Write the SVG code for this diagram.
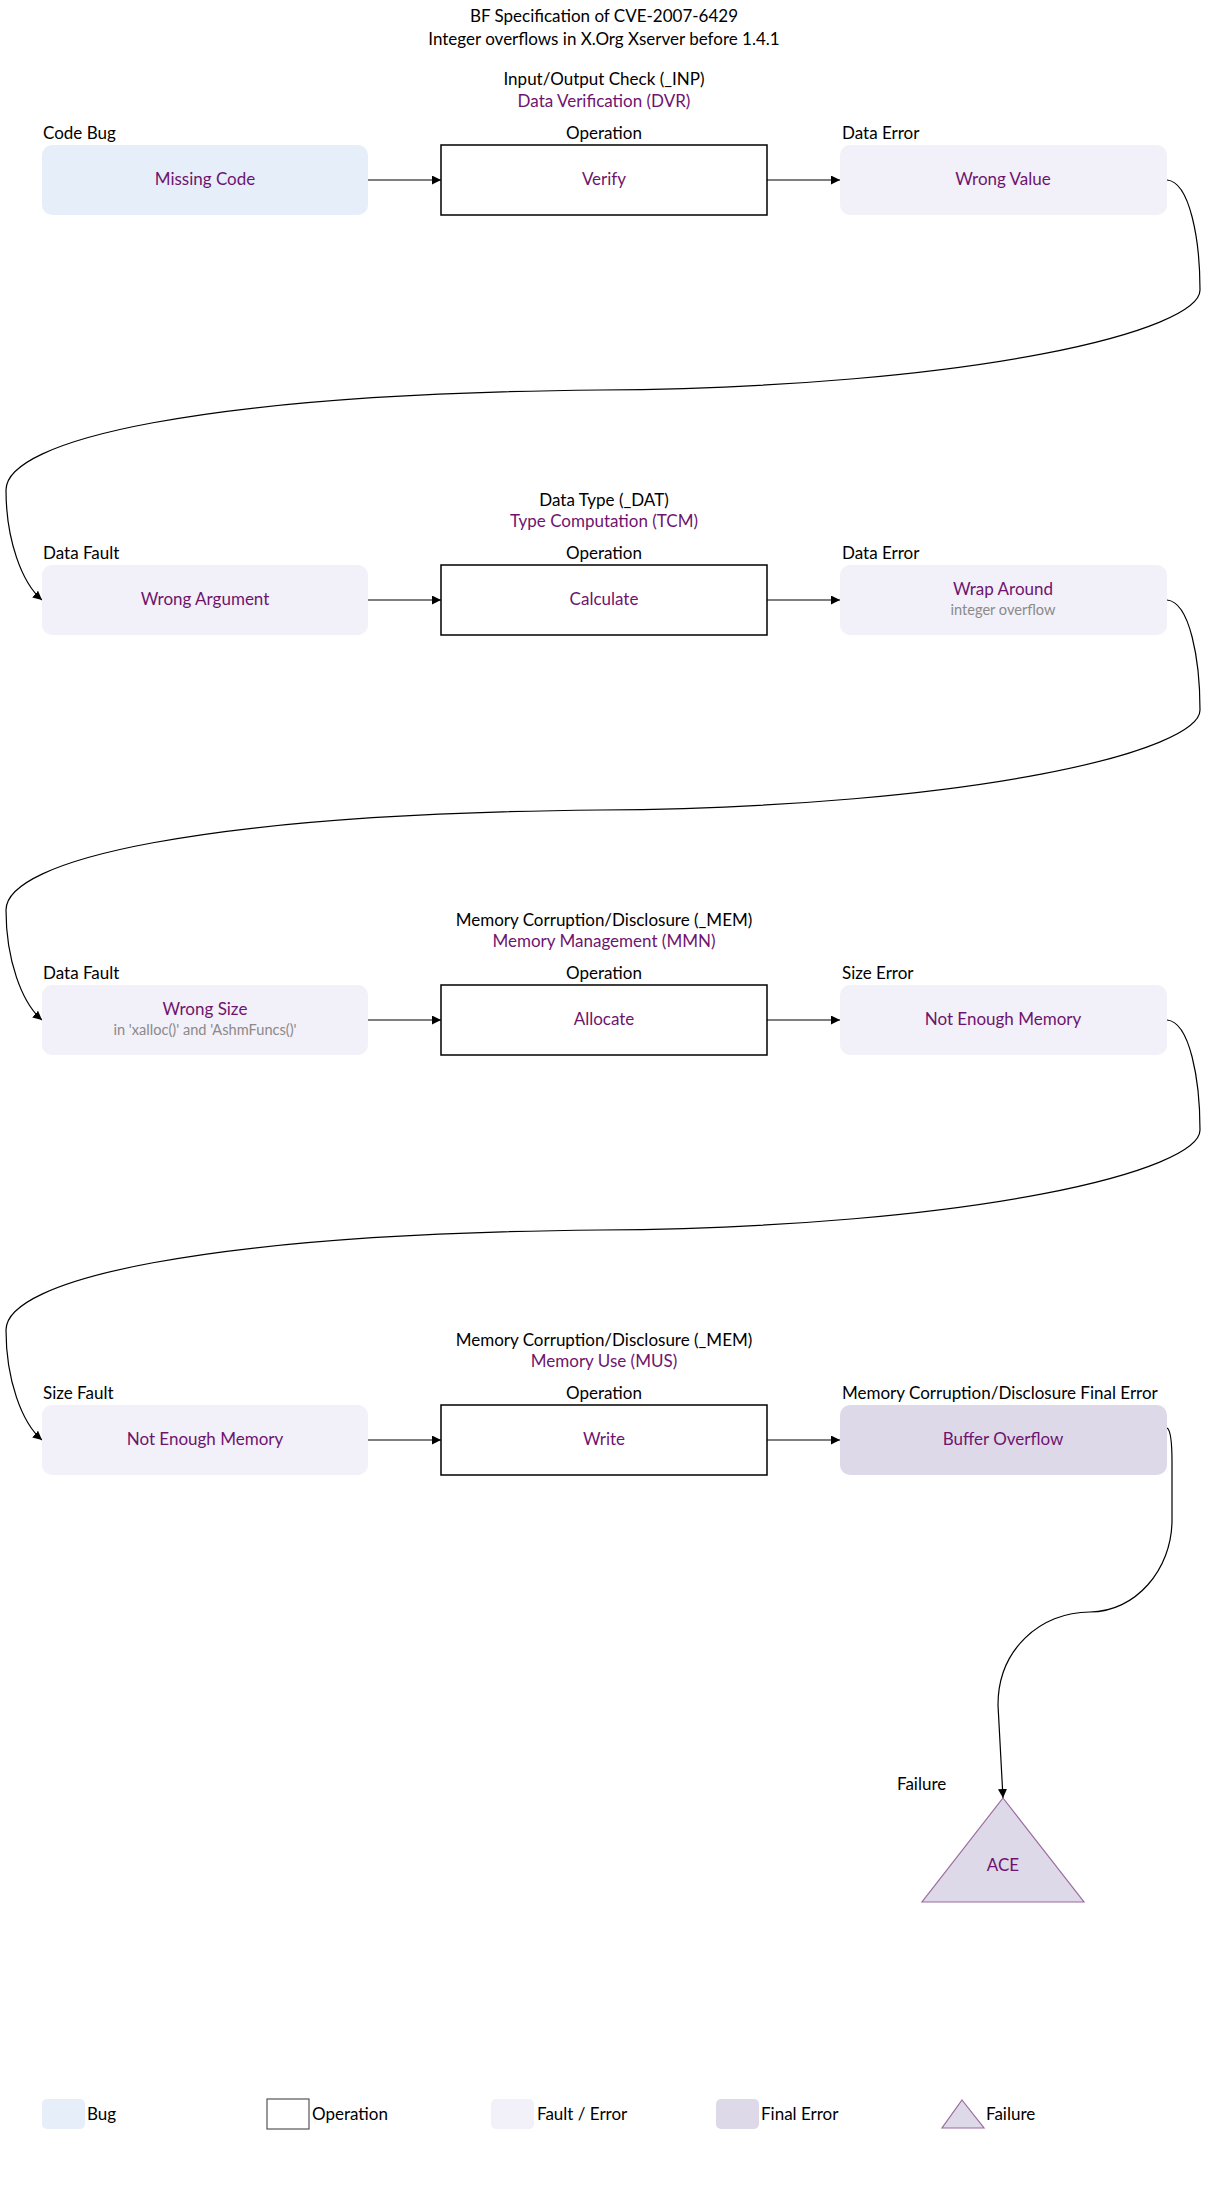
<svg xmlns="http://www.w3.org/2000/svg" width="1207" height="2208" viewBox="0 0 1207 2208">
<defs>
<style>
text{font-family:Lato,"Liberation Sans",sans-serif;font-size:17px;fill:#000;dominant-baseline:central}
.p{fill:#6e146e}
.s{font-size:14.6px;fill:#8a8a8a}
.c{text-anchor:middle}
.bug{fill:#e6eefa}
.fe{fill:#f2f0f8}
.fin{fill:#ded9e9}
.op{fill:#fff;stroke:#000;stroke-width:1.5}
.e{fill:none;stroke:#000;stroke-width:1.2;marker-end:url(#ah)}
.tri{fill:#ded9e9;stroke:#9b6b9e;stroke-width:1.2}
</style>
<marker id="ah" viewBox="0 0 10 10" refX="10" refY="5" markerWidth="9" markerHeight="9" orient="auto" markerUnits="userSpaceOnUse"><path d="M0,0 L10,5 L0,10 z" fill="#000"/></marker>
</defs>
<rect width="1207" height="2208" fill="#fff"/>

<g id="title">
<text class="c" x="604" y="15">BF Specification of CVE-2007-6429</text>
<text class="c" x="604" y="38">Integer overflows in X.Org Xserver before 1.4.1</text>
</g>

<g id="group1">
<text class="c" x="604" y="78">Input/Output Check (_INP)</text>
<text class="c p" x="604" y="100">Data Verification (DVR)</text>
</g>
<g id="group2">
<text class="c" x="604" y="499">Data Type (_DAT)</text>
<text class="c p" x="604" y="520">Type Computation (TCM)</text>
</g>
<g id="group3">
<text class="c" x="604" y="919">Memory Corruption/Disclosure (_MEM)</text>
<text class="c p" x="604" y="940">Memory Management (MMN)</text>
</g>
<g id="group4">
<text class="c" x="604" y="1339">Memory Corruption/Disclosure (_MEM)</text>
<text class="c p" x="604" y="1360">Memory Use (MUS)</text>
</g>

<g id="connectors">
<path class="e" d="M368,180 L441,180"/>
<path class="e" d="M767,180 L840,180"/>
<path class="e" d="M1167,180 C1190,182 1200,240 1200,290 C1200,330 980,387 600,390 C200,394 6,440 6,490 C6,540 22,583 42,600"/>
<path class="e" d="M368,600 L441,600"/>
<path class="e" d="M767,600 L840,600"/>
<path class="e" d="M1167,600 C1190,602 1200,660 1200,710 C1200,750 980,807 600,810 C200,814 6,860 6,910 C6,960 22,1003 42,1020"/>
<path class="e" d="M368,1020 L441,1020"/>
<path class="e" d="M767,1020 L840,1020"/>
<path class="e" d="M1167,1020 C1190,1022 1200,1080 1200,1130 C1200,1170 980,1227 600,1230 C200,1234 6,1280 6,1330 C6,1380 22,1423 42,1440"/>
<path class="e" d="M368,1440 L441,1440"/>
<path class="e" d="M767,1440 L840,1440"/>
<path class="e" d="M1167,1428 C1171,1430 1172,1442 1172,1462 L1172,1520 C1172,1570 1135,1612 1090,1612 C1040,1612 998,1650 998,1705 L1003,1798"/>
</g>

<g id="n-missing-code">
<text x="43" y="132">Code Bug</text>
<rect class="bug" x="42" y="145" width="326" height="70" rx="10"/>
<text class="c p" x="205" y="178">Missing Code</text>
</g>
<g id="n-verify">
<text class="c" x="604" y="132">Operation</text>
<rect class="op" x="441" y="145" width="326" height="70"/>
<text class="c p" x="604" y="178">Verify</text>
</g>
<g id="n-wrong-value">
<text x="842" y="132">Data Error</text>
<rect class="fe" x="840" y="145" width="327" height="70" rx="10"/>
<text class="c p" x="1003" y="178">Wrong Value</text>
</g>

<g id="n-wrong-argument">
<text x="43" y="552">Data Fault</text>
<rect class="fe" x="42" y="565" width="326" height="70" rx="10"/>
<text class="c p" x="205" y="598">Wrong Argument</text>
</g>
<g id="n-calculate">
<text class="c" x="604" y="552">Operation</text>
<rect class="op" x="441" y="565" width="326" height="70"/>
<text class="c p" x="604" y="598">Calculate</text>
</g>
<g id="n-wrap-around">
<text x="842" y="552">Data Error</text>
<rect class="fe" x="840" y="565" width="327" height="70" rx="10"/>
<text class="c p" x="1003" y="588">Wrap Around</text>
<text class="c s" x="1003" y="609">integer overflow</text>
</g>

<g id="n-wrong-size">
<text x="43" y="972">Data Fault</text>
<rect class="fe" x="42" y="985" width="326" height="70" rx="10"/>
<text class="c p" x="205" y="1008">Wrong Size</text>
<text class="c s" x="205" y="1029">in 'xalloc()' and 'AshmFuncs()'</text>
</g>
<g id="n-allocate">
<text class="c" x="604" y="972">Operation</text>
<rect class="op" x="441" y="985" width="326" height="70"/>
<text class="c p" x="604" y="1018">Allocate</text>
</g>
<g id="n-not-enough-memory-error">
<text x="842" y="972">Size Error</text>
<rect class="fe" x="840" y="985" width="327" height="70" rx="10"/>
<text class="c p" x="1003" y="1018">Not Enough Memory</text>
</g>

<g id="n-not-enough-memory-fault">
<text x="43" y="1392">Size Fault</text>
<rect class="fe" x="42" y="1405" width="326" height="70" rx="10"/>
<text class="c p" x="205" y="1438">Not Enough Memory</text>
</g>
<g id="n-write">
<text class="c" x="604" y="1392">Operation</text>
<rect class="op" x="441" y="1405" width="326" height="70"/>
<text class="c p" x="604" y="1438">Write</text>
</g>
<g id="n-buffer-overflow">
<text x="842" y="1392">Memory Corruption/Disclosure Final Error</text>
<rect class="fin" x="840" y="1405" width="327" height="70" rx="10"/>
<text class="c p" x="1003" y="1438">Buffer Overflow</text>
</g>

<g id="n-ace">
<text x="897" y="1783">Failure</text>
<polygon class="tri" points="1003,1798 1084,1902 922,1902"/>
<text class="c p" x="1003" y="1864">ACE</text>
</g>

<g id="legend">
<rect class="bug" x="42" y="2099" width="43" height="30" rx="5"/>
<text x="87" y="2113">Bug</text>
<rect x="267" y="2099" width="42" height="30" fill="#fff" stroke="#555" stroke-width="1.2"/>
<text x="312" y="2113">Operation</text>
<rect class="fe" x="491" y="2099" width="43" height="30" rx="5"/>
<text x="537" y="2113">Fault / Error</text>
<rect class="fin" x="716" y="2099" width="43" height="30" rx="5"/>
<text x="761" y="2113">Final Error</text>
<polygon class="tri" points="962,2100 984,2128 942,2128"/>
<text x="986" y="2113">Failure</text>
</g>
</svg>
